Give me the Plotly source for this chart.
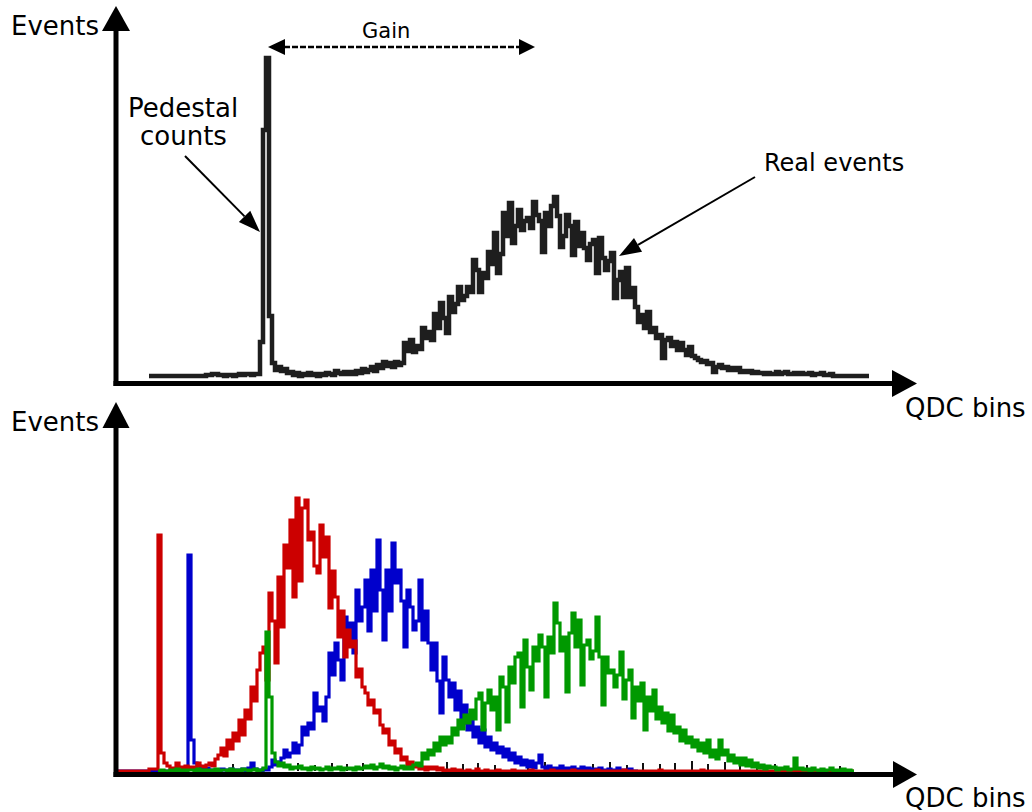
import plotly.graph_objects as go

W, H = 1032, 812

# ---------------- data: counts per QDC bin (arbitrary units) ----------------
# each series is a list of counts for consecutive QDC bins, starting at the given first bin
top_first_bin = 11
top_counts = [0, 0, 0, 0, 0, 0, 0, 0, 0,
              0, 0, 0, 0, 0, 0, 0, 0, 0, 0,
              1, 1, 2, 2, 1, 1, 0, 1, 1, 0,
              1, 2, 1, 2, 2, 1, 2, 2, 34, 246,
              318, 60, 13, 6, 9, 5, 7, 3, 4, 1,
              3, 0, 2, 1, 3, 1, 2, 0, 2, 1,
              3, 2, 1, 5, 3, 2, 4, 2, 4, 2,
              5, 3, 7, 4, 6, 9, 5, 11, 8, 14,
              10, 13, 9, 14, 11, 13, 33, 25, 36, 24,
              30, 27, 48, 38, 44, 36, 62, 48, 73, 58,
              43, 79, 64, 72, 89, 76, 80, 89, 84, 116,
              106, 84, 103, 98, 124, 112, 143, 103, 122, 163,
              140, 173, 133, 150, 166, 146, 155, 158, 148, 174,
              161, 155, 124, 163, 150, 170, 179, 160, 129, 140,
              161, 150, 121, 154, 130, 143, 128, 116, 132, 136,
              103, 138, 118, 106, 115, 123, 78, 96, 104, 79,
              108, 79, 88, 69, 54, 61, 48, 64, 44, 48,
              38, 41, 18, 36, 38, 30, 34, 26, 33, 26,
              21, 29, 20, 18, 16, 14, 15, 12, 13, 4,
              9, 11, 8, 9, 6, 8, 6, 8, 4, 5,
              4, 5, 3, 4, 3, 3, 2, 3, 2, 2,
              4, 2, 3, 4, 2, 2, 3, 2, 3, 2,
              2, 3, 1, 2, 2, 3, 1, 1, 2, 0,
              0, 0, 0, 0, 0, 0, 0, 0, 0, 0, 0, 0]

red_first_bin = 0
red_counts = [0, 0, 0, 0, 0, 0, 0, 0, 0, 0,
              0, 2, 2, 2, 236, 18, 8, 5, 3, 2,
              8, 4, 3, 5, 2, 4, 3, 8, 5, 4,
              6, 8, 5, 12, 16, 23, 15, 31, 22, 38,
              30, 51, 36, 61, 52, 84, 70, 101, 118, 124,
              91, 178, 150, 108, 194, 144, 226, 203, 251, 174,
              273, 190, 263, 271, 231, 239, 205, 198, 246, 214,
              234, 163, 200, 174, 134, 160, 114, 141, 124, 130,
              94, 102, 84, 78, 66, 71, 58, 61, 46, 38,
              42, 26, 30, 18, 22, 11, 14, 6, 9, 4,
              6, 2, 4, 1, 4, 2, 4, 1, 3, 0,
              1, 0, 2, 0, 1, 0, 0, 1, 0, 0,
              2, 0, 0, 1, 0, 0, 0, 1, 0, 0,
              0, 0, 1, 0, 0, 0, 0, 0, 1, 0,
              0, 0, 0, 0, 0, 1, 0, 0, 0, 0,
              0, 0, 1, 0, 0, 0, 0, 0, 0, 0,
              1, 0, 0, 0, 0, 0, 0, 0, 0, 1,
              0, 0, 0, 0, 0, 0, 0, 0, 0, 0,
              0, 1, 0, 0, 0, 0, 0, 0, 0, 0,
              0, 0, 0, 0, 0, 1, 0, 0, 0, 0,
              0, 0, 0, 0, 0, 0, 0, 0, 0, 0,
              0, 0, 0, 0, 0, 0, 0, 0, 0, 0,
              0, 0, 0, 0, 0, 0, 0, 0, 0, 0,
              0, 0, 0, 0, 0, 0, 0, 0, 0, 0,
              0, 0, 0, 0, 0, 0, 0]

blue_first_bin = 0
blue_counts = [0, 0, 0, 0, 0, 0, 0, 0, 0, 0,
               0, 0, 0, 0, 0, 0, 0, 0, 0, 0,
               0, 0, 0, 2, 216, 31, 8, 5, 3, 2,
               3, 1, 0, 1, 0, 2, 1, 0, 2, 1,
               0, 1, 2, 0, 3, 8, 2, 1, 0, 2,
               1, 4, 11, 6, 9, 13, 21, 14, 18, 28,
               18, 26, 44, 36, 48, 42, 78, 60, 64, 50,
               74, 118, 96, 128, 111, 91, 154, 128, 148, 118,
               181, 150, 164, 191, 140, 201, 160, 231, 181, 131,
               201, 160, 228, 188, 201, 170, 124, 181, 164, 141,
               150, 191, 131, 160, 128, 101, 128, 90, 58, 114,
               91, 74, 88, 61, 80, 48, 66, 41, 56, 34,
               44, 28, 41, 24, 34, 21, 28, 18, 24, 14,
               22, 11, 18, 8, 14, 6, 11, 4, 10, 3,
               8, 16, 4, 2, 5, 1, 3, 2, 5, 1,
               3, 0, 4, 1, 2, 4, 0, 3, 1, 2,
               0, 3, 1, 0, 2, 0, 1, 3, 0, 1,
               0, 2, 0, 0, 0]

green_first_bin = 14
green_counts = [0, 1, 0, 0, 1, 0,
                2, 0, 1, 0, 1, 1, 0, 2, 0, 1,
                0, 1, 0, 2, 0, 1, 1, 0, 2, 0,
                1, 0, 2, 1, 0, 1, 2, 0, 1, 3,
                139, 74, 18, 9, 5, 8, 4, 6, 2, 4,
                3, 5, 2, 3, 1, 4, 2, 3, 1, 2,
                4, 1, 3, 2, 4, 1, 3, 2, 3, 1,
                4, 2, 3, 5, 3, 6, 2, 4, 7, 3,
                5, 2, 4, 1, 3, 5, 2, 4, 2, 6,
                8, 5, 18, 12, 21, 16, 28, 20, 34, 26,
                34, 28, 43, 36, 51, 42, 56, 48, 61, 52,
                72, 78, 41, 68, 81, 61, 74, 41, 94, 84,
                49, 104, 88, 114, 118, 64, 131, 104, 81, 124,
                110, 136, 124, 74, 134, 118, 168, 148, 120, 134,
                79, 138, 158, 124, 151, 86, 126, 131, 112, 120,
                154, 114, 66, 114, 98, 101, 84, 96, 119, 72,
                91, 101, 53, 84, 70, 88, 41, 74, 60, 81,
                52, 64, 48, 58, 40, 56, 38, 44, 30, 41,
                28, 34, 24, 31, 20, 28, 18, 31, 14, 21,
                12, 31, 16, 21, 10, 16, 8, 13, 6, 13,
                5, 11, 4, 8, 3, 6, 2, 5, 3, 4,
                1, 3, 2, 4, 1, 2, 13, 2, 3, 1,
                2, 0, 3, 1, 0, 2, 0, 1, 3, 0,
                1, 0, 2, 0, 1, 0, 0]

black_tick_bins = [39.0, 60.7, 66.3, 72.0, 77.0, 82.3, 110.3, 115.7, 120.7, 126.3, 137.3, 143.0, 159.0,
                   164.7, 170.3, 175.7, 181.3, 186.3, 192.0, 197.3, 203.0, 208.0, 213.7, 219.7, 230.3, 241.3]
black_tick_counts = [7, 8, 6, 8, 7, 8, 9, 7, 8, 6, 8, 9, 7,
                     9, 6, 8, 7, 8, 10, 7, 9, 6, 8, 7, 6, 5]

X_MAX_BIN = 800 / 3  # visible QDC range


def bins_for(first, counts):
    return list(range(first, first + len(counts)))


# ---------------- helpers for decoration in pixel space ----------------
def px(x):
    return x / W


def py(y):
    return 1 - y / H


FONT = "DejaVu Sans"

fig = go.Figure()

fig.add_trace(go.Scatter(x=bins_for(top_first_bin, top_counts), y=top_counts, mode="lines", line_shape="hv",
                         line=dict(color="#1e1e1e", width=4.5), xaxis="x", yaxis="y",
                         showlegend=False, hoverinfo="skip"))
fig.add_trace(go.Bar(x=black_tick_bins, y=black_tick_counts, width=0.5, marker_color="#111111",
                     marker_line_width=0, xaxis="x2", yaxis="y2", showlegend=False, hoverinfo="skip"))
for first, counts, col in [(blue_first_bin, blue_counts, "#0000cc"),
                           (red_first_bin, red_counts, "#cc0000"),
                           (green_first_bin, green_counts, "#009900")]:
    fig.add_trace(go.Scatter(x=bins_for(first, counts), y=counts, mode="lines", line_shape="hv",
                             line=dict(color=col, width=3.2), xaxis="x2", yaxis="y2",
                             showlegend=False, hoverinfo="skip"))

shapes = []


def seg(x0, y0, x1, y1, w, dash=None):
    d = dict(type="line", xref="paper", yref="paper", x0=px(x0), y0=py(y0), x1=px(x1), y1=py(y1),
             line=dict(color="black", width=w), layer="above")
    if dash:
        d["line"]["dash"] = dash
    shapes.append(d)


def tri(apex, base_c, half):
    ax, ay = apex
    bx, by = base_c
    dx, dy = ax - bx, ay - by
    L = (dx * dx + dy * dy) ** 0.5
    nx, ny = -dy / L, dx / L
    p1 = (bx + nx * half, by + ny * half)
    p2 = (bx - nx * half, by - ny * half)
    path = "M {} {} L {} {} L {} {} Z".format(px(ax), py(ay), px(p1[0]), py(p1[1]), px(p2[0]), py(p2[1]))
    shapes.append(dict(type="path", xref="paper", yref="paper", path=path,
                       fillcolor="black", line=dict(color="black", width=0), layer="above"))


def arrow(x0, y0, x1, y1, head_len, half, w):
    dx, dy = x1 - x0, y1 - y0
    L = (dx * dx + dy * dy) ** 0.5
    bx, by = x1 - dx / L * head_len, y1 - dy / L * head_len
    seg(x0, y0, bx, by, w)
    tri((x1, y1), (bx, by), half)


# axes (top)
seg(116, 386, 116, 30, 5)
tri((116, 6), (116, 31), 14)
seg(113.5, 383.5, 893, 383.5, 5)
tri((917, 383.5), (892, 383.5), 13.5)
# axes (bottom)
seg(116, 777, 116, 426, 5)
tri((116, 402), (116, 428), 13.5)
seg(113.5, 774.5, 894, 774.5, 5)
tri((917, 774.5), (893, 774.5), 13.5)

# gain double arrow (dashed)
seg(284, 47, 520, 47, 2.5, dash="6px,2px")
tri((268, 47), (285, 47), 8)
tri((535, 47), (519, 47), 8)

# annotation arrows
arrow(185, 156, 260, 232, 22, 8, 2)
arrow(755, 177, 619, 256, 22, 8, 2)

annotations = []


def text(t, x, y, size, xanchor="left"):
    annotations.append(dict(text=t, x=px(x), y=py(y), xref="paper", yref="paper", showarrow=False,
                            xanchor=xanchor, yanchor="middle",
                            font=dict(family=FONT, size=size, color="black")))


text("Events", 9, 26, 26)
text("Events", 9, 422, 26)
text("QDC bins", 903, 408, 26)
text("QDC bins", 903, 798, 26)
text("Gain", 386, 31, 21, xanchor="center")
text("Pedestal", 183, 108, 26, xanchor="center")
text("counts", 183, 136, 26, xanchor="center")
text("Real events", 762, 163, 24)

fig.update_layout(
    shapes=shapes,
    annotations=annotations,
    width=W, height=H,
    margin=dict(l=0, r=0, t=0, b=0),
    paper_bgcolor="white", plot_bgcolor="rgba(0,0,0,0)",
    showlegend=False,
    bargap=0,
    xaxis=dict(domain=[px(116), px(916)], range=[0, X_MAX_BIN], visible=False, fixedrange=True),
    yaxis=dict(domain=[py(384), py(6)], range=[-8, 370], visible=False, fixedrange=True),
    xaxis2=dict(domain=[px(116), px(916)], range=[0, X_MAX_BIN], visible=False, anchor="y2", fixedrange=True),
    yaxis2=dict(domain=[py(775), py(402)], range=[-4, 369], visible=False, anchor="x2", fixedrange=True),
)

fig.write_html("out.html", config={"displayModeBar": False})
